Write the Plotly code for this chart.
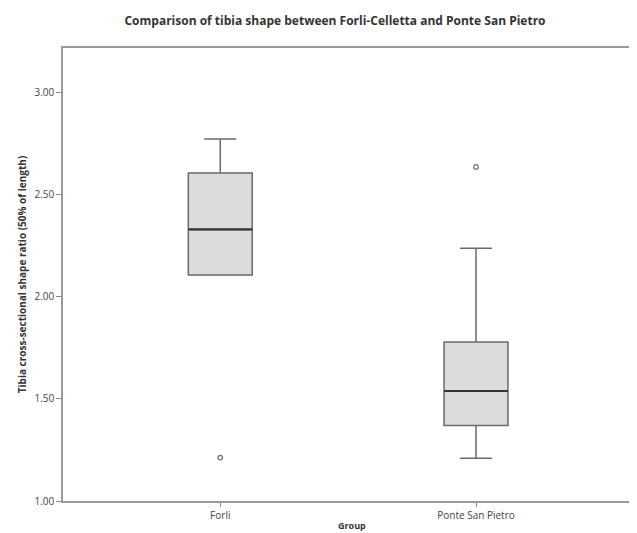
import plotly.graph_objects as go

groups = ["Forli", "Ponte San Pietro"]
q1 = [2.107, 1.370]
median = [2.331, 1.539]
q3 = [2.607, 1.779]
lower_whisker = [2.107, 1.209]
upper_whisker = [2.774, 2.239]
outlier_group = [0, 1]
outlier_values = [1.213, 2.637]
y_ticks = [1.0, 1.5, 2.0, 2.5, 3.0]
y_tick_labels = ["1.00", "1.50", "2.00", "2.50", "3.00"]

positions = list(range(len(groups)))
box_w = 0.25

fig = go.Figure()
fig.add_trace(go.Box(
    x=positions, q1=q1, median=median, q3=q3,
    lowerfence=lower_whisker, upperfence=upper_whisker,
    width=box_w, whiskerwidth=0.5, boxpoints=False,
    fillcolor="#dcdcdc", line=dict(color="#6a6a6a", width=1.5),
    showlegend=False, hoverinfo="skip",
))
for p, m in zip(positions, median):
    fig.add_trace(go.Scatter(
        x=[p - box_w / 2, p + box_w / 2], y=[m, m], mode="lines",
        line=dict(color="#333333", width=2.2), showlegend=False, hoverinfo="skip",
    ))
fig.add_trace(go.Scatter(
    x=outlier_group, y=outlier_values, mode="markers",
    marker=dict(symbol="circle-open", size=4.5, color="#777777", line=dict(width=1.3)),
    showlegend=False, hoverinfo="skip",
))

font_family = "Open Sans, Lato, sans-serif"
fig.update_layout(
    width=629, height=525,
    margin=dict(l=55, r=3, t=40, b=32),
    paper_bgcolor="white", plot_bgcolor="white",
    font=dict(family=font_family, size=10, color="#444444"),
    title=dict(
        text="<b>Comparison of tibia shape between Forli-Celletta and Ponte San Pietro</b>",
        x=0.478, xref="paper", xanchor="center", y=0.975, yanchor="middle",
        font=dict(family=font_family, size=12, color="#333333"),
    ),
    xaxis=dict(
        range=[-0.615, 1.61], tickvals=positions, ticktext=groups,
        showgrid=False, zeroline=False, showline=True, linecolor="#999999", linewidth=1.5,
        mirror=True, ticks="outside", ticklen=4, tickcolor="#888888",
        tickfont=dict(size=10, color="#444444"),
    ),
    yaxis=dict(
        range=[1.0, 3.22], tickvals=y_ticks, ticktext=y_tick_labels,
        showgrid=False, zeroline=False, showline=True, linecolor="#999999", linewidth=1.5,
        mirror=True, ticks="outside", ticklen=5, tickcolor="#888888",
        tickfont=dict(size=10, color="#444444"),
        title=dict(text="<b>Tibia cross-sectional shape ratio (50% of length)</b>",
                   font=dict(size=10, color="#333333"), standoff=6),
    ),
    annotations=[dict(
        text="<b>Group</b>", xref="paper", yref="paper", x=0.508, y=-0.053,
        xanchor="center", yanchor="middle", showarrow=False,
        font=dict(family=font_family, size=9, color="#333333"),
    )],
)

fig.write_html("out.html")
